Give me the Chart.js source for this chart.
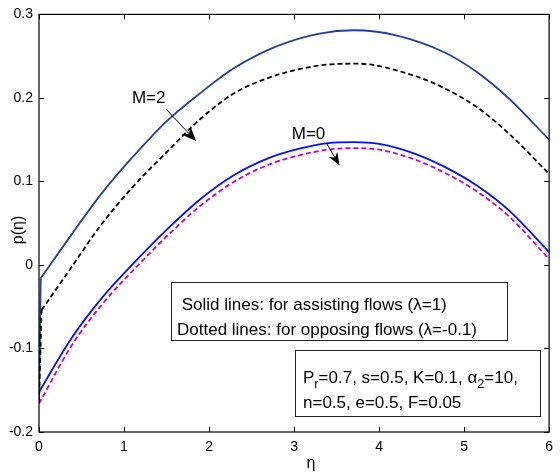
<!DOCTYPE html>
<html><head><meta charset="utf-8">
<script src="https://cdn.jsdelivr.net/npm/chart.js@4.4.1/dist/chart.umd.min.js"></script>
<style>html,body{margin:0;padding:0;background:#fff}#wrap{width:560px;height:474px;position:relative}</style>
</head><body><div id="wrap"><canvas id="c" width="560" height="474"></canvas></div>
<script>
// ---- data ----
const xTicks = [0, 1, 2, 3, 4, 5, 6];
const yTicks = [-0.2, -0.1, 0, 0.1, 0.2, 0.3];

// M=2, assisting flow (lambda=1) - solid dark blue (first point = wall value)
const etaM2Assist = [0, 0.02, 0.38, 0.74, 1.1, 1.5, 1.9, 2.3, 2.8, 3.3, 3.7, 4.2, 4.76, 5.15, 5.53, 6];
const pM2Assist   = [-0.165, -0.016, 0.036, 0.086, 0.129, 0.172, 0.206, 0.236, 0.262, 0.277, 0.281, 0.275, 0.255, 0.231, 0.199, 0.150];
// M=2, opposing flow (lambda=-0.1) - dashed black
const etaM2Oppose = [0, 0.03, 0.38, 0.73, 1.1, 1.52, 1.9, 2.3, 2.7, 3.0, 3.4, 3.75, 4.4, 4.76, 5.15, 5.53, 6];
const pM2Oppose   = [-0.165, -0.054, -0.003, 0.048, 0.093, 0.137, 0.175, 0.206, 0.224, 0.233, 0.240, 0.241, 0.227, 0.212, 0.189, 0.157, 0.109];
// M=0, assisting - solid blue
const etaM0 = [0, 0.38, 0.76, 1.15, 1.5, 1.9, 2.3, 2.7, 3.05, 3.4, 3.7, 4.0, 4.4, 4.76, 5.15, 5.53, 6];
const pM0Assist = [-0.152, -0.088, -0.037, 0.006, 0.042, 0.079, 0.108, 0.128, 0.139, 0.146, 0.147, 0.145, 0.134, 0.118, 0.095, 0.065, 0.0155];
// M=0, opposing - dashed magenta
const pM0Oppose = [-0.166, -0.097, -0.045, -0.002, 0.034, 0.071, 0.100, 0.120, 0.131, 0.138, 0.140, 0.138, 0.127, 0.111, 0.088, 0.058, 0.007];

const FONT = "'Liberation Sans', Arial, Helvetica, sans-serif";
const pts = (xs, ys) => xs.map((x, i) => ({x: x, y: ys[i]}));

function arrow(ctx, x0, y0, x1, y1, L, W) {
  const dx = x1 - x0, dy = y1 - y0, d = Math.hypot(dx, dy);
  const ux = dx / d, uy = dy / d, nx = -uy, ny = ux;
  ctx.beginPath(); ctx.moveTo(x0, y0); ctx.lineTo(x1 - ux * L * 0.6, y1 - uy * L * 0.6);
  ctx.lineWidth = 1; ctx.strokeStyle = '#000'; ctx.stroke();
  ctx.beginPath();
  ctx.moveTo(x1, y1);
  ctx.lineTo(x1 - ux * L + nx * W, y1 - uy * L + ny * W);
  ctx.lineTo(x1 - ux * L * 0.7, y1 - uy * L * 0.7);
  ctx.lineTo(x1 - ux * L - nx * W, y1 - uy * L - ny * W);
  ctx.closePath(); ctx.fillStyle = '#000'; ctx.fill();
}

function rich(ctx, parts, x, y, size) {
  let cx = x;
  for (const p of parts) {
    const s = p.sub ? size * 0.75 : size;
    ctx.font = s + 'px ' + FONT;
    ctx.fillText(p.t, cx, p.sub ? y + size * 0.3 : y);
    cx += ctx.measureText(p.t).width;
  }
}

const decor = {
  id: 'decor',
  afterDraw(chart) {
    const ctx = chart.ctx, a = chart.chartArea, xs = chart.scales.x, ys = chart.scales.y;
    ctx.save();
    ctx.strokeStyle = '#000'; ctx.lineWidth = 1.2;
    ctx.strokeRect(a.left, a.top, a.right - a.left, a.bottom - a.top);
    ctx.lineWidth = 1;
    ctx.beginPath();
    xTicks.forEach(v => { const p = Math.round(xs.getPixelForValue(v)) + 0.5;
      ctx.moveTo(p, a.bottom); ctx.lineTo(p, a.bottom - 5);
      ctx.moveTo(p, a.top); ctx.lineTo(p, a.top + 5); });
    yTicks.forEach(v => { const p = Math.round(ys.getPixelForValue(v)) + 0.5;
      ctx.moveTo(a.left, p); ctx.lineTo(a.left + 5, p);
      ctx.moveTo(a.right, p); ctx.lineTo(a.right - 5, p); });
    ctx.stroke();

    const X = v => xs.getPixelForValue(v), Y = v => ys.getPixelForValue(v);
    ctx.fillStyle = '#000';
    ctx.font = '17px ' + FONT; ctx.textAlign = 'center'; ctx.textBaseline = 'middle';
    ctx.fillText('M=2', X(1.29), Y(0.200));
    ctx.fillText('M=0', X(3.17), Y(0.157));
    arrow(ctx, X(1.50), Y(0.186), X(1.85), Y(0.148), 15, 6);
    arrow(ctx, X(3.38), Y(0.146), X(3.535), Y(0.119), 13, 5);

    ctx.strokeStyle = '#222'; ctx.lineWidth = 1;
    ctx.strokeRect(171.5, 282.5, 336, 58);
    ctx.strokeRect(295.5, 350.5, 245, 66);
    ctx.textAlign = 'left'; ctx.textBaseline = 'alphabetic'; ctx.fillStyle = '#000';
    ctx.font = '17px ' + FONT;
    ctx.fillText(' Solid lines: for assisting flows (\u03bb=1)', 177, 310);
    ctx.fillText('Dotted lines: for opposing flows (\u03bb=-0.1)', 177, 335);
    rich(ctx, [{t:'P'},{t:'r',sub:true},{t:'=0.7, s=0.5, K=0.1, \u03b1'},{t:'2',sub:true},{t:'=10,'}], 303, 383, 17);
    ctx.font = '17px ' + FONT;
    ctx.fillText('n=0.5, e=0.5, F=0.05', 303, 408);

    ctx.font = '16px ' + FONT; ctx.textAlign = 'center'; ctx.textBaseline = 'middle';
    ctx.fillText('\u03b7', 311, 464);
    ctx.translate(19, 230); ctx.rotate(-Math.PI / 2);
    ctx.fillText('p(\u03b7)', 0, 0);
    ctx.restore();
  }
};

// each curve: a straight wall segment (first two points) + a smooth body
function curve(xs, ys, color, dash, jump) {
  const all = pts(xs, ys);
  const base = { borderColor: color, borderWidth: 1.8, borderDash: dash, pointRadius: 0, fill: false };
  const out = [Object.assign({ data: all.slice(jump), cubicInterpolationMode: 'monotone' }, base)];
  if (jump > 0) out.push(Object.assign({ data: all.slice(0, jump + 1), tension: 0 }, base));
  return out;
}

new Chart(document.getElementById('c'), {
  type: 'line',
  data: { datasets: [].concat(
    curve(etaM2Oppose, pM2Oppose, '#000000', [5, 3], 1),
    curve(etaM2Assist, pM2Assist, '#26409a', [], 1),
    curve(etaM0, pM0Oppose, '#c400c4', [5, 3], 0),
    curve(etaM0, pM0Assist, '#0010ff', [], 0)
  )},
  options: {
    responsive: false, animation: false, devicePixelRatio: 1,
    layout: { padding: { top: 11, right: 5, left: 0, bottom: 0 } },
    plugins: { legend: { display: false }, tooltip: { enabled: false } },
    scales: {
      x: { type: 'linear', min: 0, max: 6,
        afterBuildTicks: s => { s.ticks = xTicks.map(v => ({value: v})); },
        afterFit: s => { s.height = 42; },
        grid: { display: false, drawTicks: false }, border: { display: false },
        ticks: { padding: 7, color: '#000', font: { family: FONT, size: 14 }, maxRotation: 0,
          callback: v => String(v) } },
      y: { type: 'linear', min: -0.2, max: 0.3,
        afterBuildTicks: s => { s.ticks = yTicks.map(v => ({value: v})); },
        afterFit: s => { s.width = 39; },
        grid: { display: false, drawTicks: false }, border: { display: false },
        ticks: { padding: 6, color: '#000', font: { family: FONT, size: 14 },
          callback: v => String(Math.round(v * 10) / 10) } }
    }
  },
  plugins: [decor]
});
</script></body></html>
